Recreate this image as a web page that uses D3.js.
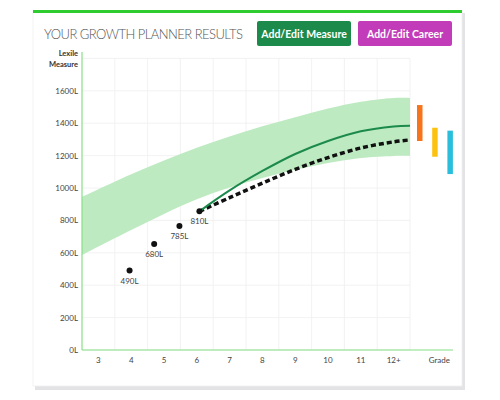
<!DOCTYPE html>
<html><head><meta charset="utf-8">
<script src="https://cdn.jsdelivr.net/npm/d3@7"></script>
<style>
body{margin:0;background:#fff;font-family:Lato,"Open Sans",sans-serif;}
</style></head>
<body>
<svg id="c" width="500" height="400"></svg>
<script>
// ---- data ----
const gradeLabels = ["3","4","5","6","7","8","9","10","11","12+"];
const yTicks = [0,200,400,600,800,1000,1200,1400,1600];
const bandGrades = [2.5,3,4,5,6,7,8,9,10,11,12,12.5];
const bandLow  = [586,639,741,840,930,1003,1062,1113,1155,1185,1198,1199];
const bandHigh = [946,993,1085,1170,1248,1318,1381,1437,1490,1532,1556,1556];
const measureGrades = [3.95,4.7,5.47,6.08];
const measureValues = [490,655,765,856];
const measureLabels = ["490L","680L","785L","810L"];
const projGrades = [6.08,7,8,9,10,11,12,12.5];
const projGreen  = [856,985,1105,1210,1290,1350,1380,1385];
const projDotted = [856,940,1030,1115,1188,1247,1285,1297];
const careerColors = ["#f7731c","#fdc20f","#29bedb"];
const careerLow  = [1290,1193,1086];
const careerHigh = [1512,1372,1354];

const svg = d3.select("#c");
// card
svg.append("rect").attr("x",35).attr("y",13).attr("width",430).attr("height",377).attr("fill","#e3e3e6");
svg.append("rect").attr("x",33).attr("y",11).attr("width",429).attr("height",375).attr("fill","#fff").attr("stroke","#f0f0f2").attr("stroke-width",0.8);
svg.append("rect").attr("x",33).attr("y",10).attr("width",429).attr("height",3).attr("fill","#2fcc2f");

svg.append("text").attr("x",44).attr("y",39).attr("font-size",13).attr("fill","#555").attr("font-weight",300)
  .attr("textLength",199).text("YOUR GROWTH PLANNER RESULTS");
const btns=[{x:257,w:94,c:"#1b8a4b",t:"Add/Edit Measure"},{x:358,w:94,c:"#c23cb9",t:"Add/Edit Career"}];
btns.forEach(b=>{
  svg.append("rect").attr("x",b.x).attr("y",21).attr("width",b.w).attr("height",25).attr("rx",2).attr("fill",b.c);
  svg.append("text").attr("x",b.x+b.w/2).attr("y",37.5).attr("text-anchor","middle").attr("font-size",10.5)
    .attr("font-weight",700).attr("fill","#fff").text(b.t);
});

const x = d3.scaleLinear().domain([2.5,12.5]).range([82,410]);
const y = d3.scaleLinear().domain([0,1800]).range([350,58.4]);

// grid
const g = svg.append("g");
g.selectAll(".hg").data(yTicks.concat([1800])).join("line").attr("x1",82).attr("x2",410)
  .attr("y1",d=>y(d)).attr("y2",d=>y(d)).attr("stroke","#efefef").attr("stroke-width",0.8);
g.selectAll(".vg").data(d3.range(3.5,13.5,1)).join("line").attr("x1",d=>x(d)).attr("x2",d=>x(d))
  .attr("y1",y(1800)).attr("y2",350).attr("stroke","#efefef").attr("stroke-width",0.8);

// band
const band = bandGrades.map((gr,i)=>({g:gr,lo:bandLow[i],hi:bandHigh[i]}));
svg.append("path").datum(band).attr("fill","#bdeac0")
  .attr("d",d3.area().x(d=>x(d.g)).y0(d=>y(d.lo)).y1(d=>y(d.hi)).curve(d3.curveCatmullRom.alpha(0.5)));

// axes lines
svg.append("line").attr("x1",82).attr("x2",82).attr("y1",52).attr("y2",350).attr("stroke","#86e086").attr("stroke-width",1.2);
svg.append("line").attr("x1",82).attr("x2",453).attr("y1",350).attr("y2",350).attr("stroke","#86e086").attr("stroke-width",1.2);

// y labels
svg.selectAll(".yl").data(yTicks).join("text").attr("x",78).attr("y",d=>y(d)+3).attr("text-anchor","end")
  .attr("font-size",8).attr("fill","#444").text(d=>d+"L");
svg.append("text").attr("x",78).attr("y",56).attr("text-anchor","end").attr("font-size",7.5).attr("font-weight",700).attr("fill","#333").text("Lexile");
svg.append("text").attr("x",78).attr("y",67).attr("text-anchor","end").attr("font-size",7.5).attr("font-weight",700).attr("fill","#333").text("Measure");
// x labels
svg.selectAll(".xl").data(gradeLabels).join("text").attr("x",(d,i)=>x(3+i)).attr("y",363).attr("text-anchor","middle")
  .attr("font-size",8).attr("fill","#444").text(d=>d);
svg.append("text").attr("x",450).attr("y",363).attr("text-anchor","end").attr("font-size",8).attr("fill","#444").text("Grade");

// projection lines
const pg = projGrades.map((gr,i)=>({g:gr,v:projGreen[i]}));
const pd = projGrades.map((gr,i)=>({g:gr,v:projDotted[i]}));
const ln = d3.line().x(d=>x(d.g)).y(d=>y(d.v)).curve(d3.curveCatmullRom.alpha(0.5));
svg.append("path").datum(pd).attr("d",ln).attr("fill","none").attr("stroke","#111").attr("stroke-width",3.5).attr("stroke-dasharray","5,3");
svg.append("path").datum(pg).attr("d",ln).attr("fill","none").attr("stroke","#1b8a4b").attr("stroke-width",2);

// measures
const ms = measureGrades.map((gr,i)=>({g:gr,v:measureValues[i],l:measureLabels[i]}));
svg.selectAll(".dot").data(ms).join("circle").attr("cx",d=>x(d.g)).attr("cy",d=>y(d.v)).attr("r",3).attr("fill","#111");
svg.selectAll(".ml").data(ms).join("text").attr("x",d=>x(d.g)).attr("y",d=>y(d.v)+13).attr("text-anchor","middle")
  .attr("font-size",8).attr("fill","#444").text(d=>d.l);

// careers
svg.selectAll(".car").data(careerColors).join("rect").attr("x",(d,i)=>417+i*15.2).attr("width",5.5)
  .attr("y",(d,i)=>y(careerHigh[i])).attr("height",(d,i)=>y(careerLow[i])-y(careerHigh[i])).attr("fill",d=>d);
</script>
</body></html>
